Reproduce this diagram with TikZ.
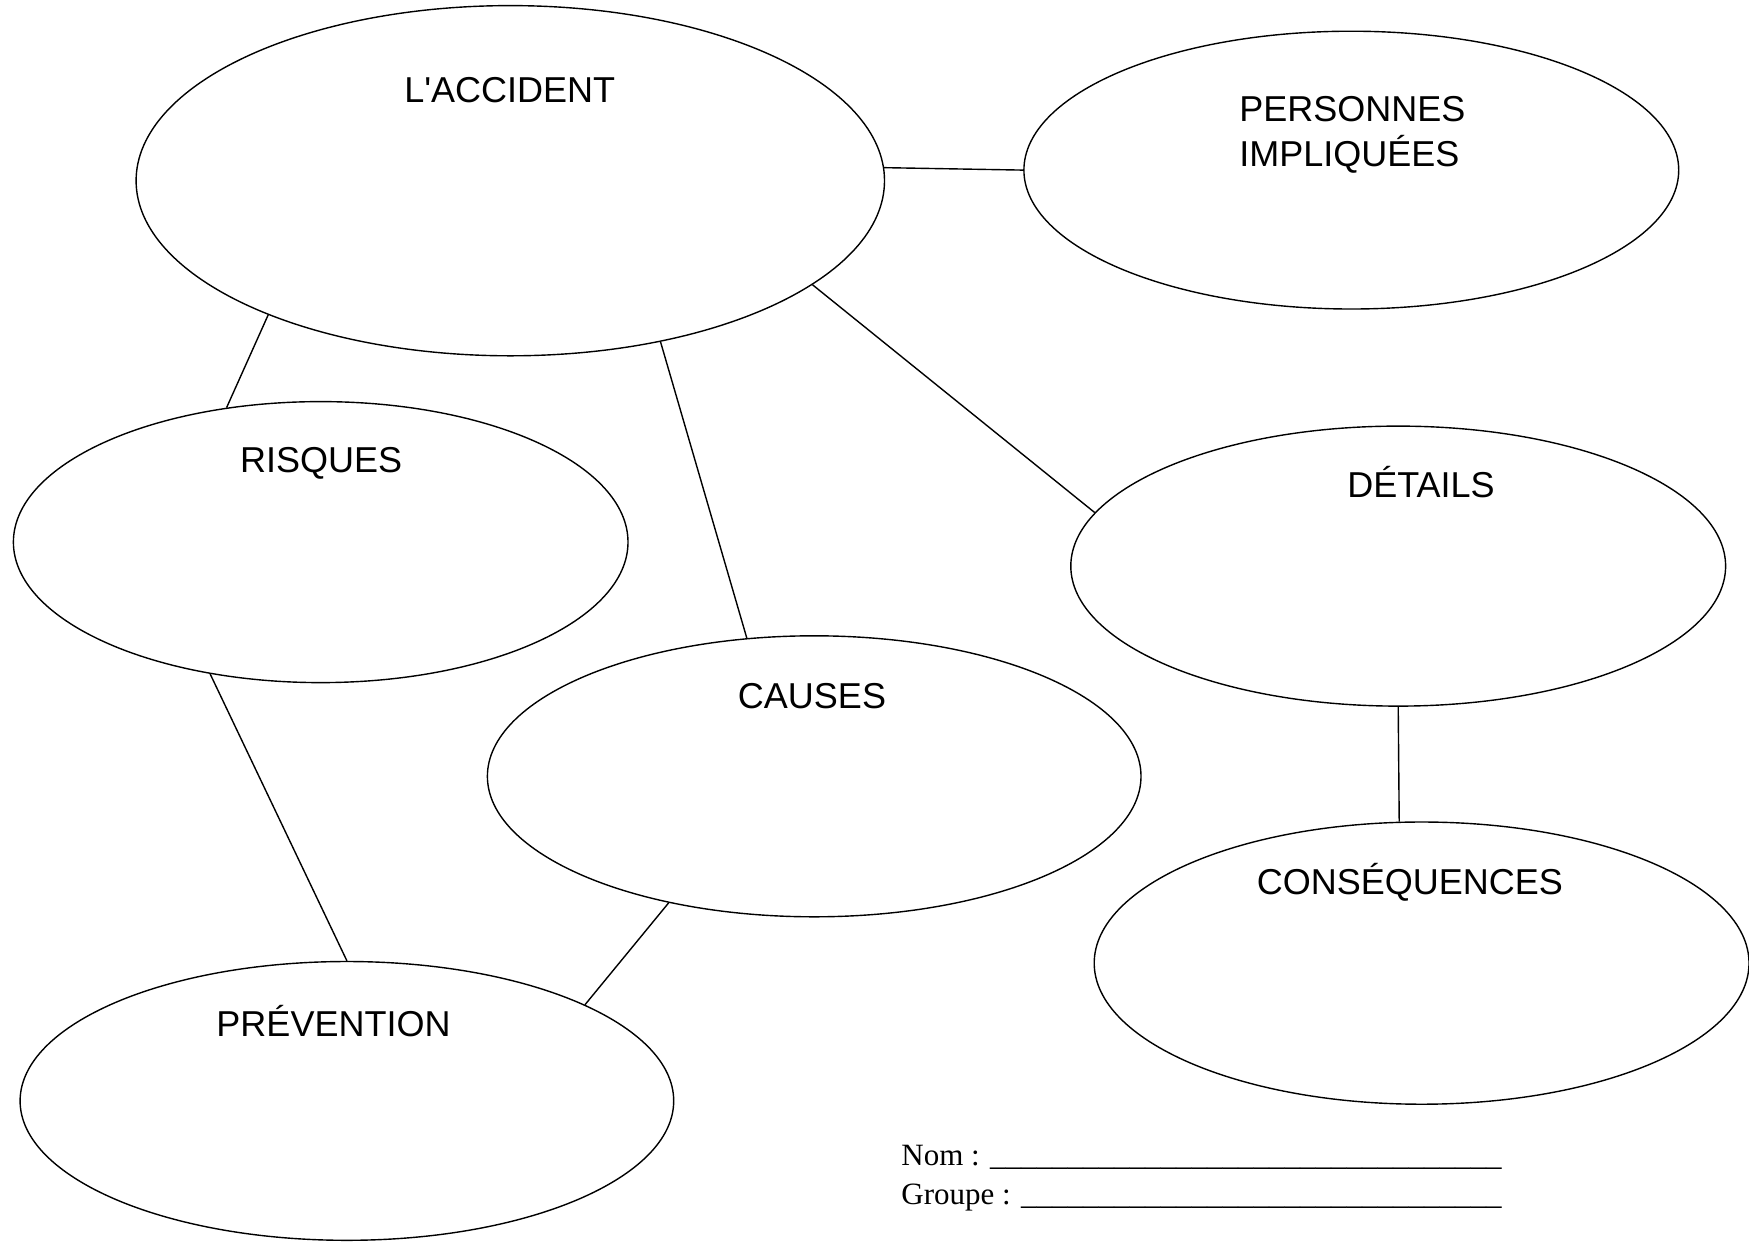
\documentclass[tikz,border=0pt]{standalone}
\usepackage{fontspec}
\setmainfont{Liberation Serif}
\newfontfamily\arialfont{Liberation Sans}
\usetikzlibrary{shapes.geometric}
\tikzset{
    bubble/.style={draw, ellipse, inner sep=0pt, line width=0.7pt},
    title/.style={anchor=base, inner sep=0pt, font=\arialfont\fontsize{18}{22.3}\selectfont},
    field/.style={anchor=base west, inner sep=0pt, font=\fontsize{15.5}{19}\selectfont},
    link/.style={line width=0.7pt}
}
\newcommand{\blank}[1]{\foreach \k in {1,...,#1}{\textunderscore}}

\begin{document}
\begin{tikzpicture}[x=0.5pt, y=-0.5pt]
\useasboundingbox (0,0) rectangle (1749,1243);
% the bubbles
\node[bubble, minimum width=374.2pt, minimum height=175.1pt] (acc) at (510.3,180.7) {};
\node[bubble, minimum width=327.4pt, minimum height=138.9pt] (pers) at (1351.3,170.1) {};
\node[bubble, minimum width=307.3pt, minimum height=140.5pt] (risq) at (320.7,542.1) {};
\node[bubble, minimum width=327.4pt, minimum height=140pt] (det) at (1398.2,566.1) {};
\node[bubble, minimum width=326.8pt, minimum height=140.5pt] (caus) at (814.2,776.3) {};
\node[bubble, minimum width=327.4pt, minimum height=141.1pt] (cons) at (1421.6,963.1) {};
\node[bubble, minimum width=326.8pt, minimum height=139.4pt] (prev) at (346.9,1100.9) {};
% their titles
\node[title] (accT) at (509.7,102.6) {L'ACCIDENT};
\node[title, anchor=base west, align=left] (persT) at (1239,166.2) {PERSONNES\\IMPLIQUÉES};
\node[title] (risqT) at (321.2,472.9) {RISQUES};
\node[title] (detT) at (1421,497.5) {DÉTAILS};
\node[title] (causT) at (812,708.3) {CAUSES};
\node[title] (consT) at (1409.9,894.5) {CONSÉQUENCES};
\node[title] (prevT) at (333.5,1036.2) {PRÉVENTION};
% links
\draw[link] (acc.2.1) -- (pers.180);
\draw[link] (acc.209.8) -- (risq.125.1);
\draw[link] (acc.-47.2) -- (caus.116.7);
\draw[link] (acc.-19) -- (det.170.6);
\draw[link] (det.270) -- (cons.99);
\draw[link] (risq.230.9) -- (prev.90);
\draw[link] (caus.221) -- (prev.22);
% name fields
\node[field] (nom) at (901,1165) {Nom : \blank{33}};
\node[field] (grp) at (901,1204) {Groupe : \blank{31}};
\end{tikzpicture}
\end{document}
